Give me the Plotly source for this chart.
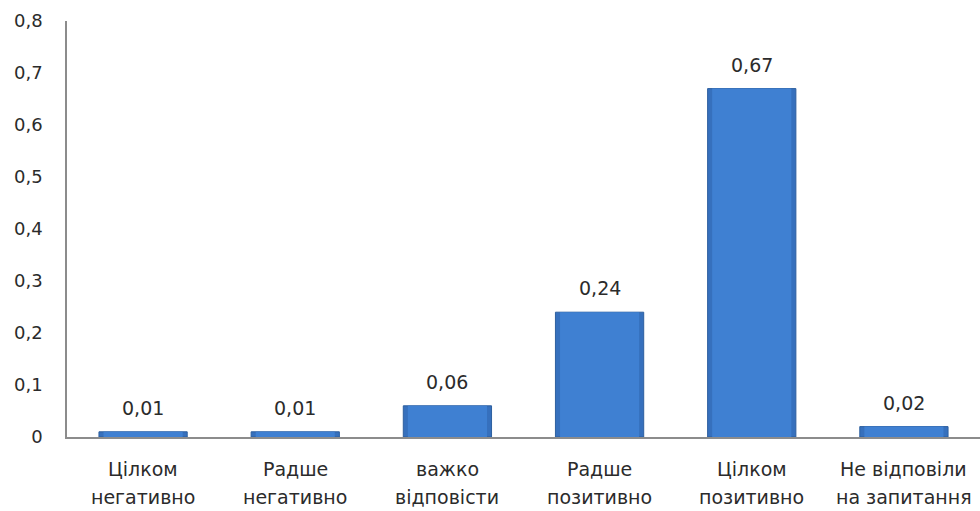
import plotly.graph_objects as go

# Survey answers: two-line category captions and share of respondents
line1 = ["Цілком", "Радше", "важко", "Радше", "Цілком", "Не відповіли"]
line2 = ["негативно", "негативно", "відповісти", "позитивно", "позитивно", "на запитання"]
categories = [a + " " + b for a, b in zip(line1, line2)]
shares = [0.01, 0.01, 0.06, 0.24, 0.67, 0.02]

FONT = "DejaVu Sans"
TEXT = "#2b2b2b"
SIZE = 19

fig = go.Figure()
# Darker outer body gives the bevelled edge look
fig.add_trace(go.Bar(
    x=categories, y=shares, width=0.58,
    marker=dict(color="#3670BD", line=dict(color="#2D5F9F", width=1)),
    hoverinfo="skip",
))
# Lighter inner face
fig.add_trace(go.Bar(
    x=categories, y=shares, width=0.52,
    marker=dict(color="#3F80D2", line=dict(width=0)),
    hoverinfo="skip",
))

# Value labels floated above each bar
for cat, v in zip(categories, shares):
    fig.add_annotation(x=cat, y=v, xref="x", yref="y",
                       text=f"{v:.2f}".replace(".", ","),
                       showarrow=False, yanchor="middle", yshift=24,
                       font=dict(family=FONT, size=SIZE, color=TEXT))

# Category captions drawn as two rows for wider line spacing
for cat, a, b in zip(categories, line1, line2):
    fig.add_annotation(x=cat, y=0, xref="x", yref="paper", text=a,
                       showarrow=False, yanchor="middle", yshift=-32,
                       font=dict(family=FONT, size=SIZE, color=TEXT))
    fig.add_annotation(x=cat, y=0, xref="x", yref="paper", text=b,
                       showarrow=False, yanchor="middle", yshift=-60,
                       font=dict(family=FONT, size=SIZE, color=TEXT))

fig.update_layout(
    width=980, height=511,
    margin=dict(l=67, r=0, t=21, b=74),
    paper_bgcolor="white", plot_bgcolor="white",
    separators=", ",
    showlegend=False,
    barmode="overlay",
    xaxis=dict(showticklabels=False, showline=True, linecolor="#8C8C8C",
               linewidth=1.5, ticks="", showgrid=False, zeroline=False),
    yaxis=dict(range=[0, 0.8], dtick=0.1, showline=True, linecolor="#8C8C8C",
               linewidth=1.5, ticks="", showgrid=False, zeroline=False,
               ticklabelstandoff=19,
               tickfont=dict(family=FONT, size=SIZE - 1, color=TEXT)),
)

fig.write_html("out.html")
